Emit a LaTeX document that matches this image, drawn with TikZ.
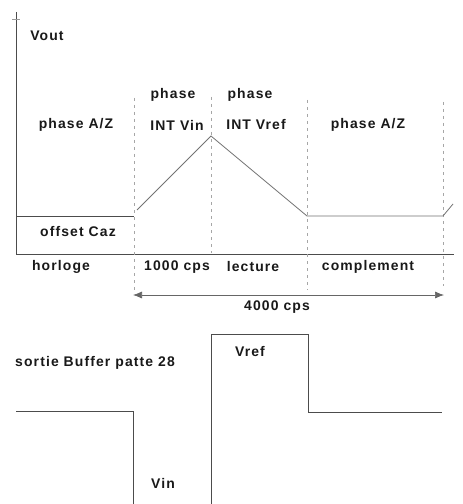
\documentclass[tikz,border=0pt]{standalone}
\usepackage{fontspec}
\setmainfont{Liberation Sans}
\newfontfamily\labfont[LetterSpace=8]{Liberation Sans}
\usetikzlibrary{arrows.meta}
\begin{document}
\begin{tikzpicture}[x=1bp,y=-1bp,
  lbl/.style={font=\labfont\fontsize{14}{16}\selectfont\bfseries, inner sep=0pt, text=black!90},
  axis/.style={draw=black!70, line width=0.8bp},
  trace/.style={draw=black!55, line width=0.8bp},
  guide/.style={draw=black!35, line width=0.6bp, dash pattern=on 3bp off 4bp},
  span/.style={draw=black!60, line width=0.7bp, {Latex[length=9bp,width=7bp]}-{Latex[length=9bp,width=7bp]}}]
\useasboundingbox[fill=white] (0,0) rectangle (463,504);
% axes
\coordinate (ytop) at (16,12);
\coordinate (yorg) at (16,254);
\coordinate (xend) at (454,254);
\coordinate (tickl) at (12,19);
\coordinate (tickr) at (20,19);
\draw[axis] (ytop) -- (yorg) -- (xend);
\draw[draw=black!40, line width=0.6bp] (tickl) -- (tickr);
% dashed phase boundaries
\coordinate (d1a) at (134,98);  \coordinate (d1b) at (134,292);
\coordinate (d2a) at (211,97);  \coordinate (d2b) at (211,253);
\coordinate (d3a) at (307,100); \coordinate (d3b) at (307,290);
\coordinate (d4a) at (443,102); \coordinate (d4b) at (443,286);
\draw[guide] (d1a) -- (d1b);
\draw[guide] (d2a) -- (d2b);
\draw[guide] (d3a) -- (d3b);
\draw[guide] (d4a) -- (d4b);
% Vout trace
\coordinate (o1) at (16,216);
\coordinate (o2) at (134,216);
\coordinate (r0) at (137,210);
\coordinate (pk) at (211,136);
\coordinate (f1) at (307,216);
\coordinate (f2) at (443,216);
\coordinate (f3) at (453,204);
\draw[axis] (o1) -- (o2);
\draw[trace] (r0) -- (pk) -- (f1) -- (f2) -- (f3);
% span arrow
\coordinate (sa) at (133,295);
\coordinate (sb) at (444,295);
\draw[span] (sa) -- (sb);
% labels
\node[lbl] (vout) at (47,36) {Vout};
\node[lbl] (paz1) at (76,125) {phase A/Z};
\node[lbl] (ph1) at (173,95) {phase};
\node[lbl] (iv) at (177,125) {INT Vin};
\node[lbl] (ph2) at (250,95) {phase};
\node[lbl] (ivr) at (256,125) {INT Vref};
\node[lbl] (paz2) at (368,125) {phase A/Z};
\node[lbl] (caz) at (78,232) {offset Caz};
\node[lbl] (hor) at (61,267) {horloge};
\node[lbl] (k1) at (177,267) {1000 cps};
\node[lbl] (lec) at (253,267) {lecture};
\node[lbl] (comp) at (368,267) {complement};
\node[lbl] (k4) at (277,307) {4000 cps};
% bottom: buffer output
\node[lbl] (buf) at (95,363) {sortie Buffer patte 28};
\coordinate (b1) at (16,411);
\coordinate (b2) at (133,411);
\coordinate (b3) at (133,504);
\coordinate (c1) at (211,504);
\coordinate (c2) at (211,334);
\coordinate (c3) at (308,334);
\coordinate (c4) at (308,412);
\coordinate (c5) at (442,412);
\draw[axis] (b1) -- (b2) -- (b3);
\draw[axis] (c1) -- (c2) -- (c3) -- (c4) -- (c5);
\node[lbl] (vref) at (250,352) {Vref};
\node[lbl] (vin) at (163,483) {Vin};
\end{tikzpicture}
\end{document}
